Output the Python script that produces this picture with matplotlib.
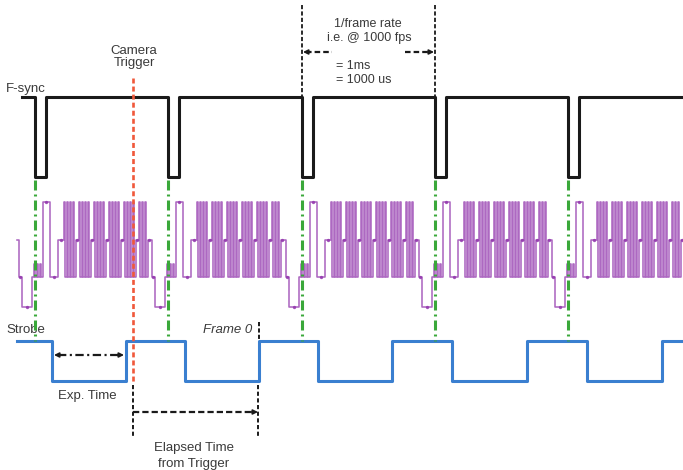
"""Camera timing diagram: F-sync, data bus, strobe vs. camera trigger."""

import matplotlib
matplotlib.use("Agg")
import matplotlib.pyplot as plt
import numpy as np

# --- data (horizontal units ~ 7.5 us each, one frame ~ 133 units = 1000 us) ---
fsync_fall = [35, 168, 302, 435, 568]          # frame start edges
fsync_pulse_width = 11
fsync_span = (22, 683)
fsync_levels = (97, 177)                        # high, low

strobe_fall = [52, 185, 318, 452, 587]
strobe_rise = [126, 259, 392, 527, 662]
strobe_span = (17, 683)
strobe_levels = (341, 381)                      # high, low

trigger_x = 133
frame0_x = 259

# data bus read-out: one level code per 1.5-unit slot, starting 18 units before F-sync fall
bus_level_y = {"H": 202, "M": 240, "k": 264, "L": 277, "B": 307}
bus_frame = "MLLBBBBBBBLkLkLkLHHHHHLLLLLMMMM" + "HLHLHLHLMM" * 5 + "HLHLHLMM"
bus_slot = 1.5
bus_lead = 18

TEXT = "#3a3a3a"
BUS = "#9236ad"
plt.rcParams["font.family"] = ["Liberation Sans", "DejaVu Sans"]
plt.rcParams["lines.scale_dashes"] = False

fig = plt.figure(figsize=(6.83, 4.70), dpi=100)
ax = fig.add_axes([0, 0, 1, 1])
ax.set_xlim(0, 683)
ax.set_ylim(470, 0)
ax.axis("off")

# F-sync
hi, lo = fsync_levels
fx, fy = [fsync_span[0]], [hi]
for x0 in fsync_fall:
    fx += [x0, x0, x0 + fsync_pulse_width, x0 + fsync_pulse_width]
    fy += [hi, lo, lo, hi]
fx.append(fsync_span[1])
fy.append(hi)
ax.plot(fx, fy, color="#1a1a1a", lw=2.2, solid_joinstyle="round", zorder=3)

# data bus
bx, by = [], []
for x0 in fsync_fall:
    start = x0 - bus_lead
    for j, c in enumerate(bus_frame):
        bx.append(start + j * bus_slot)
        by.append(bus_level_y[c])
bx.append(bx[-1] + bus_slot)
by.append(by[-1])
bx, by = np.array(bx), np.array(by)
keep = bx <= 683
ax.plot(bx[keep], by[keep], drawstyle="steps-post", color=BUS,
        lw=1.15, alpha=0.75, zorder=2)
# dots on the hold segments
dx, dy = [], []
for x0 in fsync_fall:
    start = x0 - bus_lead
    j = 0
    while j < len(bus_frame):
        k = j
        while k < len(bus_frame) and bus_frame[k] == bus_frame[j]:
            k += 1
        if bus_frame[j] in "MLHB" and k - j >= 2:
            cx = start + (j + k) / 2 * bus_slot
            if cx <= 683:
                dx.append(cx)
                dy.append(bus_level_y[bus_frame[j]])
        j = k
ax.plot(dx, dy, "o", ms=2.4, color=BUS, alpha=0.85, mew=0, zorder=2)

# green frame markers
for x0 in fsync_fall:
    ax.plot([x0, x0], [lo + 3, strobe_levels[0]], color="#3aa83a", lw=2.2,
            dashes=(7.2, 2.9, 1.4, 2.9), zorder=4)

# strobe
shi, slo = strobe_levels
sx, sy = [strobe_span[0]], [shi]
for f, r in zip(strobe_fall, strobe_rise):
    sx += [f, f, r, r]
    sy += [shi, slo, slo, shi]
sx.append(strobe_span[1])
sy.append(shi)
ax.plot(sx, sy, color="#3a7fd0", lw=2.2, solid_joinstyle="round", zorder=3)

# camera trigger
ax.plot([trigger_x, trigger_x], [78, 384], color="#f0583a", lw=1.9,
        dashes=(3.6, 2.2), zorder=5)
ax.text(trigger_x + 1, 66, "Camera\nTrigger", ha="center", va="baseline",
        fontsize=9.5, color=TEXT, linespacing=1.05)

ax.text(6, 92, "F-sync", ha="left", va="baseline", fontsize=9.5, color=TEXT)
ax.text(6, 333, "Strobe", ha="left", va="baseline", fontsize=9.5, color=TEXT)

# frame period annotation
p0, p1 = fsync_fall[2], fsync_fall[3]
for x in (p0, p1):
    ax.plot([x, x], [5, hi], color="#1a1a1a", lw=1.3, dashes=(3, 1.6))
ax.plot([p0 + 4, p0 + 30], [52, 52], color="#1a1a1a", lw=1.6, dashes=(4, 2.2))
ax.plot([p1 - 30, p1 - 4], [52, 52], color="#1a1a1a", lw=1.6, dashes=(4, 2.2))
head = dict(arrowstyle="-|>", color="#1a1a1a", lw=1.2, mutation_scale=7,
            shrinkA=0, shrinkB=0)
ax.annotate("", xy=(p0 + 1, 52), xytext=(p0 + 7, 52), arrowprops=head)
ax.annotate("", xy=(p1 - 1, 52), xytext=(p1 - 7, 52), arrowprops=head)
ax.text(368, 27, "1/frame rate", ha="center", va="baseline", fontsize=9,
        color=TEXT)
ax.text(369, 41, "i.e. @ 1000 fps", ha="center", va="baseline", fontsize=9,
        color=TEXT)
ax.text(336, 69, "= 1ms", ha="left", va="baseline", fontsize=9, color=TEXT)
ax.text(336, 83, "= 1000 us", ha="left", va="baseline", fontsize=9,
        color=TEXT)

# exposure time
ax.plot([strobe_fall[0] + 6, strobe_rise[0] - 6], [355, 355], color="#1a1a1a",
        lw=1.6, dashes=(6, 2.5, 1.5, 2.5))
ax.annotate("", xy=(strobe_fall[0] + 2, 355),
            xytext=(strobe_fall[0] + 9, 355), arrowprops=head)
ax.annotate("", xy=(strobe_rise[0] - 2, 355),
            xytext=(strobe_rise[0] - 9, 355), arrowprops=head)
ax.text(87, 399, "Exp. Time", ha="center", va="baseline", fontsize=9.5,
        color=TEXT)

# elapsed time from trigger
ax.plot([frame0_x, frame0_x], [322, shi - 2], color="#1a1a1a", lw=1.4,
        dashes=(3, 1.6))
ax.text(252, 333, "Frame 0", ha="right", va="baseline", fontsize=9.5,
        style="italic", color=TEXT)
for x in (trigger_x, frame0_x - 1):
    ax.plot([x, x], [385, 438], color="#1a1a1a", lw=1.4, dashes=(3, 1.8))
ax.plot([trigger_x, frame0_x - 6], [412, 412], color="#1a1a1a", lw=1.6,
        dashes=(4.5, 2.2))
ax.annotate("", xy=(frame0_x - 1, 412), xytext=(frame0_x - 8, 412),
            arrowprops=head)
ax.text(194, 451, "Elapsed Time", ha="center", va="baseline", fontsize=9.5,
        color=TEXT)
ax.text(194, 467, "from Trigger", ha="center", va="baseline", fontsize=9.5,
        color=TEXT)

fig.savefig("out.png", dpi=100)
